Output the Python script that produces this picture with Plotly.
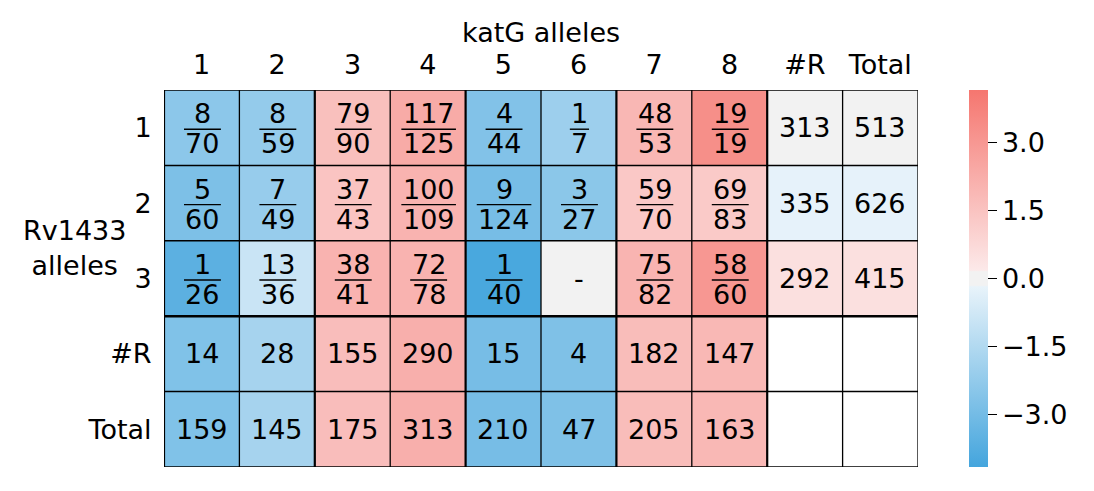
import plotly.graph_objects as go

col_labels = ["1", "2", "3", "4", "5", "6", "7", "8", "#R", "Total"]
row_labels = ["1", "2", "3", "#R", "Total"]

num_r1 = [8, 8, 79, 117, 4, 1, 48, 19]
den_r1 = [70, 59, 90, 125, 44, 7, 53, 19]
num_r2 = [5, 7, 37, 100, 9, 3, 59, 69]
den_r2 = [60, 49, 43, 109, 124, 27, 70, 83]
num_r3 = [1, 13, 38, 72, 1, None, 75, 58]
den_r3 = [26, 36, 41, 78, 40, None, 82, 60]
row_R = [313, 335, 292]
row_total = [513, 626, 415]
col_R = [14, 28, 155, 290, 15, 4, 182, 147]
col_total = [159, 145, 175, 313, 210, 47, 205, 163]

# colour values (estimated from cell shading)
z_r1 = [-2.41, -2.21, 1.61, 2.32, -2.66, -2.0, 1.90, 3.3, 0.09, 0.09]
z_r2 = [-2.76, -2.15, 1.46, 2.05, -2.91, -2.44, 1.32, 1.24, -0.22, -0.22]
z_r3 = [-3.58, -0.93, 2.05, 2.05, -4.02, 0.0, 2.01, 3.0, 0.50, 0.50]
z_R = [-2.70, -1.79, 1.69, 2.17, -2.92, -2.73, 1.71, 1.86, None, None]
z_T = [-2.70, -1.79, 1.69, 2.17, -2.92, -2.73, 1.71, 1.86, None, None]
z = [z_r1, z_r2, z_r3, z_R, z_T]

ZMAX = 4.15
colorscale = [
    [0.0, "#44a5dd"],
    [0.478, "#e8f3fa"],
    [0.482, "#f2f2f2"],
    [0.518, "#f2f2f2"],
    [0.522, "#fce9e9"],
    [1.0, "#f5766f"],
]

FONT = "DejaVu Sans"
FS = 27
CELL_PX = 754 / 10.0

# the page body adds an 8px offset; margins are compensated for it
OFF = 8
ML, MT, PW, PH = 164 - OFF, 90 - OFF, 754, 377
W, H = 1094 - OFF, 491 - OFF

fig = go.Figure(go.Heatmap(
    z=z, x=list(range(10)), y=list(range(5)),
    colorscale=colorscale, zmin=-ZMAX, zmax=ZMAX,
    hoverinfo="skip",
    colorbar=dict(
        x=(969 - 164) / PW, xanchor="left", xpad=0,
        y=0.5, yanchor="middle", ypad=0, len=1, lenmode="fraction",
        thickness=19, thicknessmode="pixels", outlinewidth=0,
        tickvals=[-3, -1.5, 0, 1.5, 3],
        ticktext=["\u22123.0", "\u22121.5", "0.0", "1.5", "3.0"],
        ticks="outside", ticklen=9, tickwidth=1.3, tickcolor="black",
        tickfont=dict(family=FONT, size=FS, color="black"),
    ),
))

annotations = []
shapes = []

def add_text(x, y, text, yshift=0):
    annotations.append(dict(x=x, y=y, xref="x", yref="y", text=text, showarrow=False,
                            font=dict(family=FONT, size=FS, color="black"),
                            xanchor="center", yanchor="middle", yshift=yshift))

nums = [num_r1, num_r2, num_r3]
dens = [den_r1, den_r2, den_r3]
for i in range(3):
    for j in range(8):
        n, d = nums[i][j], dens[i][j]
        if n is None:
            add_text(j, i, "-")
            continue
        add_text(j + 0.01, i, str(n), yshift=14)
        add_text(j + 0.01, i, str(d), yshift=-16)
        ndig = max(len(str(n)), len(str(d)))
        w = (17.7 * ndig + 1.5) / CELL_PX
        shapes.append(dict(type="line", xref="x", yref="y", x0=j + 0.01 - w / 2, x1=j + 0.01 + w / 2,
                           y0=i + 0.02, y1=i + 0.02, line=dict(color="black", width=1.4)))
    add_text(8, i, str(row_R[i]))
    add_text(9, i, str(row_total[i]))
for j in range(8):
    add_text(j, 3, str(col_R[j]))
    add_text(j, 4, str(col_total[j]))

# grid lines
thick_x = {1.5, 3.5, 5.5, 7.5}
for k in range(11):
    xv = k - 0.5
    w = 2.2 if xv in thick_x or k == 0 else 1.3
    shapes.append(dict(type="line", xref="x", yref="y", x0=xv, x1=xv, y0=-0.5, y1=4.5,
                       line=dict(color="black", width=w)))
for k in range(6):
    yv = k - 0.5
    w = 2.4 if yv == 2.5 else 1.5
    shapes.append(dict(type="line", xref="x", yref="y", x0=-0.5, x1=9.5, y0=yv, y1=yv,
                       line=dict(color="black", width=w)))

annotations.append(dict(x=0.5, y=1 + (90 - 32) / PH, xref="paper", yref="paper", text="katG alleles",
                        showarrow=False, font=dict(family=FONT, size=FS, color="black"),
                        xanchor="center", yanchor="middle"))
annotations.append(dict(x=(74 - 164) / PW, y=1 - (248 - 90) / PH, xref="paper", yref="paper",
                        text="Rv1433<br>alleles", showarrow=False, align="center",
                        font=dict(family=FONT, size=FS, color="black"),
                        xanchor="center", yanchor="middle"))

fig.update_layout(
    width=W, height=H,
    margin=dict(l=ML, r=W - ML - PW, t=MT, b=H - MT - PH),
    paper_bgcolor="white", plot_bgcolor="white",
    font=dict(family=FONT, size=FS, color="black"),
    xaxis=dict(range=[-0.5, 9.5], side="top", tickvals=list(range(10)), ticktext=col_labels,
               showgrid=False, zeroline=False, showline=False,
               ticks="outside", ticklen=4, tickcolor="rgba(0,0,0,0)",
               tickfont=dict(family=FONT, size=FS, color="black")),
    yaxis=dict(range=[4.5, -0.5], tickvals=list(range(5)), ticktext=row_labels,
               showgrid=False, zeroline=False, showline=False,
               ticks="outside", ticklen=6, tickcolor="rgba(0,0,0,0)",
               tickfont=dict(family=FONT, size=FS, color="black")),
    annotations=annotations, shapes=shapes,
)

fig.write_html("out.html")
